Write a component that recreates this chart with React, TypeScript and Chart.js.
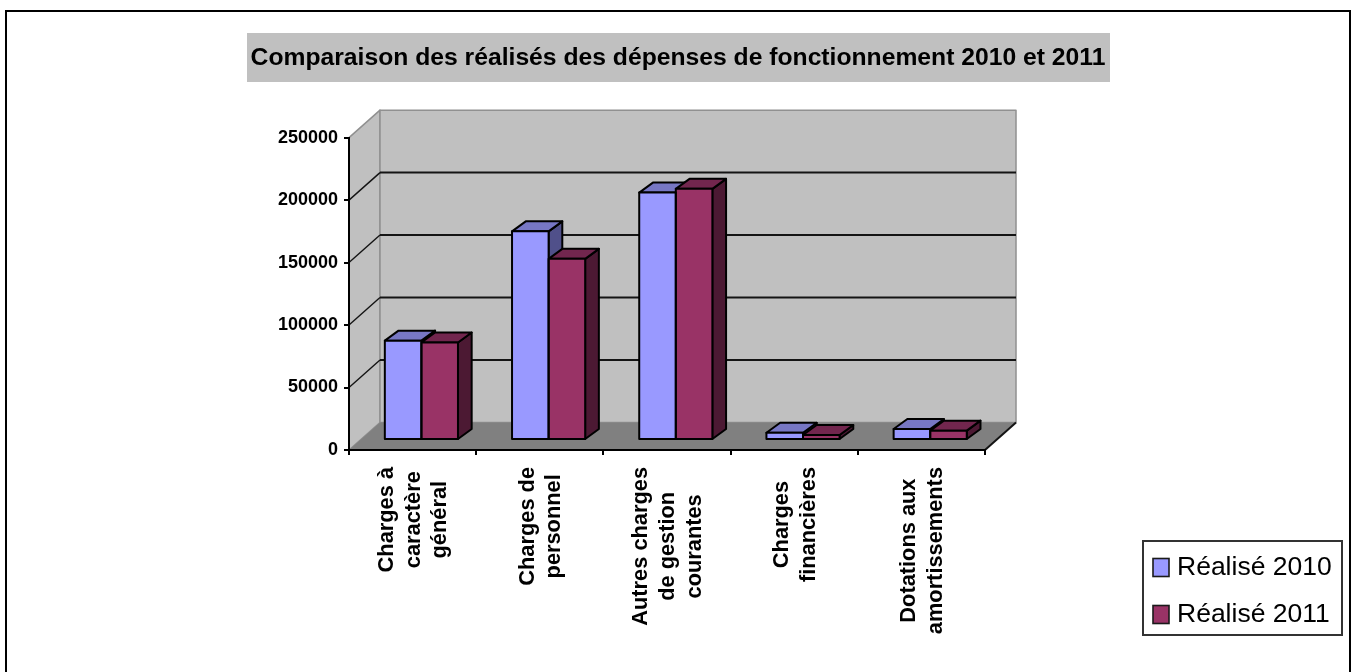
import React, { useEffect, useRef } from "react";
import { Chart, registerables } from "chart.js";

Chart.register(...registerables);

const categories: string[][] = [
  ["Charges à", "caractère", "général"],
  ["Charges de", "personnel"],
  ["Autres charges", "de gestion", "courantes"],
  ["Charges", "financières"],
  ["Dotations aux", "amortissements"],
];
const realise2010 = [79500, 167000, 198000, 5800, 8800];
const realise2011 = [78000, 145000, 201000, 4000, 7500];
const seriesNames = ["Réalisé 2010", "Réalisé 2011"];
const titleText = "Comparaison des réalisés des dépenses de fonctionnement 2010 et 2011";

const FONT = "'Liberation Sans', Arial, sans-serif";
const frontColors = ["#9999FF", "#993366"];
const topColors = ["#7777C4", "#72264E"];
const sideColors = ["#50508A", "#4C1933"];

// depth of the floor/walls and of the bars, in pixels
const WALL_DX = 31;
const WALL_DY = -27.5;
const BAR_SHIFT_DX = 8.8;
const BAR_SHIFT_DY = -10;
const BAR_DX = 13.7;
const BAR_DY = -10;
const LABEL_LINE = 26.6;
const LABEL_SIZE = 21.8;

function poly(ctx: CanvasRenderingContext2D, pts: number[][], fill?: string, stroke?: string, lw = 1) {
  ctx.beginPath();
  pts.forEach(([x, y], i) => (i ? ctx.lineTo(x, y) : ctx.moveTo(x, y)));
  ctx.closePath();
  if (fill) {
    ctx.fillStyle = fill;
    ctx.fill();
  }
  if (stroke) {
    ctx.strokeStyle = stroke;
    ctx.lineWidth = lw;
    ctx.lineJoin = "round";
    ctx.stroke();
  }
}

const scene3d = {
  id: "scene3d",
  afterLayout(chart: any) {
    // title centred on the whole page, not on the plot column
    const t = chart.titleBlock;
    t.left = 0;
    t.right = chart.width - 2;
    t.width = chart.width - 2;
  },
  beforeDraw(chart: any) {
    const { ctx, chartArea: a, scales } = chart;
    const { x: xs, y: ys } = scales;
    ctx.save();
    // page
    ctx.fillStyle = "#FFFFFF";
    ctx.fillRect(0, 0, chart.width, chart.height);
    ctx.strokeStyle = "#000000";
    ctx.lineWidth = 2;
    ctx.strokeRect(6, 11, 1344, 700);
    // title band
    ctx.fillStyle = "#C0C0C0";
    ctx.fillRect(247, 33, 863, 49);
    // walls and floor
    const L = a.left, R = a.right, T = a.top, B = a.bottom;
    const d = (x: number, y: number) => [x + WALL_DX, y + WALL_DY];
    poly(ctx, [[L, T], d(L, T), d(L, B), [L, B]], "#C0C0C0", "#909090", 1.5);
    poly(ctx, [d(L, T), d(R, T), d(R, B), d(L, B)], "#C0C0C0", "#909090", 1.5);
    poly(ctx, [[L, B], d(L, B), d(R, B), [R, B]], "#808080");
    ctx.strokeStyle = "#141414";
    ctx.lineWidth = 2;
    ys.ticks.forEach((t: any) => {
      if (t.value === 0 || t.value === ys.max) return;
      const y = ys.getPixelForValue(t.value);
      ctx.beginPath();
      ctx.moveTo(L + WALL_DX, y + WALL_DY);
      ctx.lineTo(R + WALL_DX, y + WALL_DY);
      ctx.stroke();
      ctx.save();
      ctx.lineWidth = 1.4;
      ctx.beginPath();
      ctx.moveTo(L, y);
      ctx.lineTo(L + WALL_DX, y + WALL_DY);
      ctx.stroke();
      ctx.restore();
    });
    ctx.beginPath();
    ctx.moveTo(R, B);
    ctx.lineTo(R + WALL_DX, B + WALL_DY);
    ctx.stroke();
    ctx.restore();

    // centre the lines of each rotated category label
    ctx.save();
    ctx.font = xs._resolveTickFontOptions ? xs._resolveTickFontOptions(0).string : ctx.font;
    xs.getLabelItems().forEach((it: any) => {
      if (it.options.textAlign === "center") return;
      const lines: string[] = Array.isArray(it.label) ? it.label : [it.label];
      const w = Math.max(...lines.map((s) => ctx.measureText(s).width));
      it.options.textAlign = "center";
      it.options.translation = [
        it.options.translation[0] - ((lines.length - 1) / 2) * LABEL_LINE + 1,
        it.options.translation[1] + w / 2,
      ];
    });
    ctx.restore();
  },
  beforeDatasetsDraw(chart: any) {
    const { ctx } = chart;
    ctx.save();
    ctx.translate(BAR_SHIFT_DX, BAR_SHIFT_DY);
    ctx.lineJoin = "round";
    [0, 1].forEach((ds) => {
      chart.getDatasetMeta(ds).data.forEach((el: any) => {
        const x0 = el.x - el.width / 2;
        const x1 = el.x + el.width / 2;
        const t = el.y;
        const b = el.base;
        poly(ctx, [[x1, t], [x1 + BAR_DX, t + BAR_DY], [x1 + BAR_DX, b + BAR_DY], [x1, b]], sideColors[ds], "#000000", 2);
        poly(ctx, [[x0, t], [x0 + BAR_DX, t + BAR_DY], [x1 + BAR_DX, t + BAR_DY], [x1, t]], topColors[ds], "#000000", 2);
      });
    });
    // stays translated for the library's own front faces
  },
  afterDatasetsDraw(chart: any) {
    const { ctx } = chart;
    ctx.lineWidth = 2;
    ctx.strokeStyle = "#000000";
    [0, 1].forEach((ds) => {
      chart.getDatasetMeta(ds).data.forEach((el: any) => {
        ctx.strokeRect(el.x - el.width / 2, el.y, el.width, el.base - el.y);
      });
    });
    ctx.restore();
  },
  afterDraw(chart: any) {
    const { ctx } = chart;
    ctx.save();
    ctx.fillStyle = "#FFFFFF";
    ctx.fillRect(1143, 541, 199, 94);
    ctx.strokeStyle = "#333333";
    ctx.lineWidth = 2;
    ctx.strokeRect(1143, 541, 199, 94);
    ctx.font = `26.5px ${FONT}`;
    ctx.textBaseline = "middle";
    ctx.textAlign = "left";
    chart.data.datasets.forEach((ds: any, i: number) => {
      const cy = 567.5 + i * 47;
      ctx.fillStyle = ds.backgroundColor;
      ctx.fillRect(1153, cy - 9, 16, 18);
      ctx.strokeStyle = "#1A1A1A";
      ctx.lineWidth = 1.6;
      ctx.strokeRect(1153, cy - 9, 16, 18);
      ctx.fillStyle = "#000000";
      ctx.fillText(ds.label, 1177, cy);
    });
    ctx.restore();
  },
};

export default function App() {
  const ref = useRef<HTMLCanvasElement>(null);
  useEffect(() => {
    if (!ref.current) return;
    Chart.defaults.font.family = FONT;
    const chart = new Chart(ref.current, {
      type: "bar",
      data: {
        labels: categories as any,
        datasets: [
          { label: seriesNames[0], data: realise2010, backgroundColor: frontColors[0], borderWidth: 0, clip: false as any },
          { label: seriesNames[1], data: realise2011, backgroundColor: frontColors[1], borderWidth: 0, clip: false as any },
        ],
      },
      options: {
        responsive: false,
        animation: false,
        layout: { padding: { left: 0, top: 0, right: 373, bottom: 0 } },
        datasets: { bar: { categoryPercentage: 0.575, barPercentage: 1 } },
        plugins: {
          legend: { display: false },
          tooltip: { enabled: false },
          title: {
            display: true,
            text: titleText,
            color: "#000000",
            fullSize: true,
            font: { size: 24.7, weight: "bold", family: FONT, lineHeight: 1.2 },
            padding: { top: 43, bottom: 65 },
          },
        },
        scales: {
          x: {
            afterFit: (s: any) => { s.height = 222; },
            grid: { drawOnChartArea: false, color: "#000000", lineWidth: 2, tickLength: 5 },
            border: { color: "#000000", width: 2 },
            ticks: {
              autoSkip: false,
              minRotation: 90,
              maxRotation: 90,
              padding: 12,
              color: "#000000",
              font: { size: LABEL_SIZE, weight: "bold", family: FONT, lineHeight: LABEL_LINE / LABEL_SIZE },
            },
          },
          y: {
            min: 0,
            max: 250000,
            afterFit: (s: any) => { s.width = 349; },
            grid: { drawOnChartArea: false, color: "#000000", lineWidth: 2, tickLength: 5 },
            border: { color: "#000000", width: 2 },
            ticks: {
              stepSize: 50000,
              padding: 6,
              color: "#000000",
              callback: (v: any) => String(v),
              font: { size: 18, weight: "bold", family: FONT },
            },
          },
        },
      },
      plugins: [scene3d],
    } as any);
    return () => chart.destroy();
  }, []);
  return (
    <canvas
      ref={ref}
      width={1358}
      height={672}
      style={{ position: "fixed", left: 0, top: 0, display: "block", filter: "blur(0.4px)" }}
    />
  );
}
